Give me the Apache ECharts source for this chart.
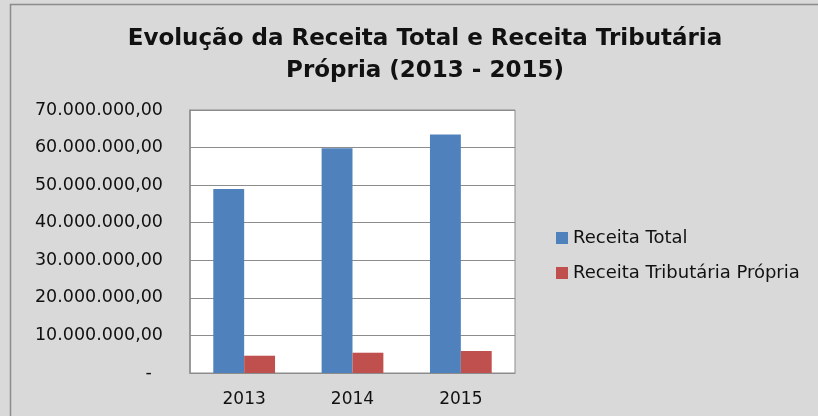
<!DOCTYPE html>
<html>
<head>
<meta charset="utf-8">
<script src="https://cdn.jsdelivr.net/npm/echarts@6/dist/echarts.min.js"></script>
<style>
  html, body { margin: 0; padding: 0; background: #fff; }
  #chart { width: 818px; height: 416px; }
</style>
</head>
<body>
<div id="chart"></div>
<script>
var years = ['2013', '2014', '2015'];
var receitaTotal = [49000000, 59800000, 63500000];
var receitaTributaria = [4600000, 5400000, 5850000];

function fmt(v) {
  if (v === 0) return '-  ';
  var s = String(Math.round(v)).replace(/\B(?=(\d{3})+(?!\d))/g, '.');
  return s + ',00';
}

var chart = echarts.init(document.getElementById('chart'));
var font = 'DejaVu Sans';
chart.setOption({
  backgroundColor: '#d9d9d9',
  animation: false,
  graphic: [{
    type: 'rect',
    shape: { x: 10.5, y: 4.5, width: 830, height: 430 },
    style: { fill: 'none', stroke: '#8c8c8c', lineWidth: 1.5 },
    silent: true
  }],
  title: {
    text: 'Evolução da Receita Total e Receita Tributária\nPrópria (2013 - 2015)',
    left: 420,
    textAlign: 'center',
    top: 18,
    textStyle: { fontFamily: font, fontWeight: 'bold', fontSize: 23, color: '#111', lineHeight: 32 }
  },
  legend: {
    orient: 'vertical',
    left: 551,
    top: 224,
    itemWidth: 12,
    itemHeight: 12,
    itemGap: 17,
    icon: 'rect',
    textStyle: { fontFamily: font, fontSize: 18, color: '#111' }
  },
  grid: {
    left: 190, top: 110, width: 325, height: 263,
    show: true, backgroundColor: '#fff', borderColor: '#8c8c8c', borderWidth: 1
  },
  xAxis: {
    type: 'category',
    data: years,
    axisTick: { show: false },
    axisLine: { lineStyle: { color: '#8c8c8c' } },
    axisLabel: { fontFamily: font, fontSize: 17, color: '#111', margin: 18 }
  },
  yAxis: {
    type: 'value',
    min: 0, max: 70000000, interval: 10000000,
    axisLine: { show: true, lineStyle: { color: '#8c8c8c', width: 1.5 } },
    axisTick: { show: false },
    splitLine: { lineStyle: { color: '#8c8c8c', width: 1 } },
    axisLabel: { fontFamily: font, fontSize: 17.5, color: '#111', margin: 27, formatter: fmt }
  },
  series: [
    {
      name: 'Receita Total', type: 'bar', data: receitaTotal,
      itemStyle: { color: '#4f81bd' }, barGap: '0%', barCategoryGap: '43%'
    },
    {
      name: 'Receita Tributária Própria', type: 'bar', data: receitaTributaria,
      itemStyle: { color: '#c0504d' }
    }
  ]
});
</script>
</body>
</html>
